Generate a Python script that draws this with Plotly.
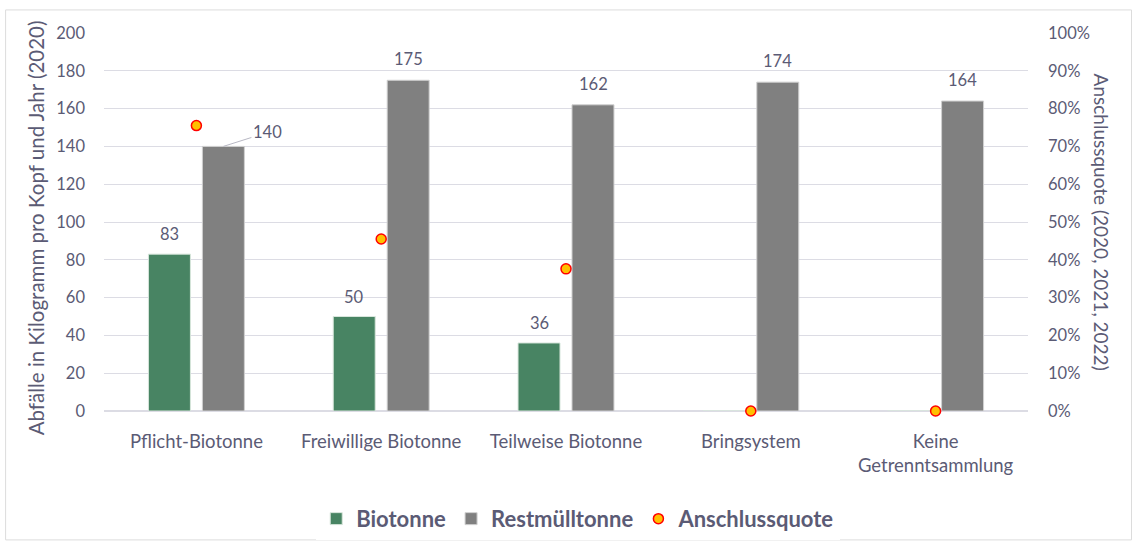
import plotly.graph_objects as go

categories = ["Pflicht-Biotonne", "Freiwillige Biotonne", "Teilweise Biotonne", "Bringsystem", "Keine<br>Getrenntsammlung"]
biotonne = [83, 50, 36, 0, 0]
restmuell = [140, 175, 162, 174, 164]
anschlussquote = [0.755, 0.455, 0.376, 0.0, 0.0]

left_ticks = list(range(0, 201, 20))
right_ticks = [i / 10 for i in range(11)]

TXT = "#5b5b75"
FONT = "Lato, 'Source Sans Pro', 'Noto Sans', sans-serif"
GREEN = "#488463"
GRAY = "#808080"

fig = go.Figure()
fig.add_trace(go.Bar(x=categories, y=biotonne, name="Biotonne", marker=dict(color=GREEN, line=dict(color="#d8e6dc", width=1)), yaxis="y"))
fig.add_trace(go.Bar(x=categories, y=restmuell, name="Restmülltonne", marker=dict(color=GRAY, line=dict(color="#d0d0d0", width=1)), yaxis="y"))
fig.add_trace(go.Scatter(x=categories, y=anschlussquote, name="Anschlussquote", mode="markers",
                         marker=dict(color="#FFC000", size=10, line=dict(color="#FF0000", width=1.5)),
                         yaxis="y2", cliponaxis=False))

# data labels
for cat, v in zip(categories, biotonne):
    if v > 0:
        fig.add_annotation(x=cat, y=v, text=str(v), showarrow=False, xshift=-27, yshift=20,
                           yanchor="middle", font=dict(size=16.5, color=TXT, family=FONT))
for i, (cat, v) in enumerate(zip(categories, restmuell)):
    if i == 0:
        fig.add_annotation(x=cat, y=v, text=str(v), showarrow=True, arrowhead=0, arrowwidth=1,
                           arrowcolor="#b8b8c4", ax=44, ay=-14, xshift=27, standoff=0,
                           font=dict(size=16.5, color=TXT, family=FONT))
    else:
        fig.add_annotation(x=cat, y=v, text=str(v), showarrow=False, xshift=27, yshift=21,
                           yanchor="middle", font=dict(size=16.5, color=TXT, family=FONT))

# axis titles
fig.add_annotation(xref="paper", yref="paper", x=-0.074, y=0.485, xanchor="center", yanchor="middle",
                   text="Abfälle in Kilogramm pro Kopf und Jahr (2020)",
                   textangle=-90, showarrow=False, font=dict(size=20.5, color=TXT, family=FONT))
fig.add_annotation(xref="paper", yref="paper", x=1.0805, y=0.5, xanchor="center", yanchor="middle",
                   text="Anschlussquote (2020, 2021, 2022)",
                   textangle=90, showarrow=False, font=dict(size=19, color=TXT, family=FONT))

# outer border
fig.add_shape(type="rect", xref="paper", yref="paper", x0=-0.1065, x1=1.112, y0=-0.341, y1=1.061,
              line=dict(color="#dcdcdc", width=1), layer="below")

fig.update_layout(
    width=1145, height=545,
    margin=dict(l=103.5, r=116.5, t=33, b=134, autoexpand=False),
    paper_bgcolor="white", plot_bgcolor="white",
    barmode="group", bargap=0.416, bargroupgap=0.222,
    font=dict(family=FONT, color=TXT, size=16),
    showlegend=True,
    legend=dict(orientation="h", xref="container", yref="container", x=0.505, xanchor="center",
                y=0.048, yanchor="middle",
                font=dict(size=22, color=TXT, family=FONT, weight="bold"),
                itemwidth=30, tracegroupgap=0),
    xaxis=dict(showgrid=False, showline=False, ticks="", ticklabelstandoff=17,
               tickfont=dict(size=18.5, color=TXT)),
    yaxis=dict(range=[0, 200], tickvals=left_ticks, showgrid=True, gridcolor="#dcdce4", gridwidth=1,
               zeroline=True, zerolinecolor="#dcdce4", showline=False, ticks="", ticklabelstandoff=18,
               tickfont=dict(size=16.5, color=TXT)),
    yaxis2=dict(range=[0, 1], overlaying="y", side="right", tickvals=right_ticks, tickformat=".0%",
                showgrid=False, zeroline=False, showline=False, ticks="", ticklabelstandoff=19,
                tickfont=dict(size=16.5, color=TXT)),
)

fig.write_html("out.html", post_script="document.body.style.margin='0px';",
               config={"displayModeBar": False})
